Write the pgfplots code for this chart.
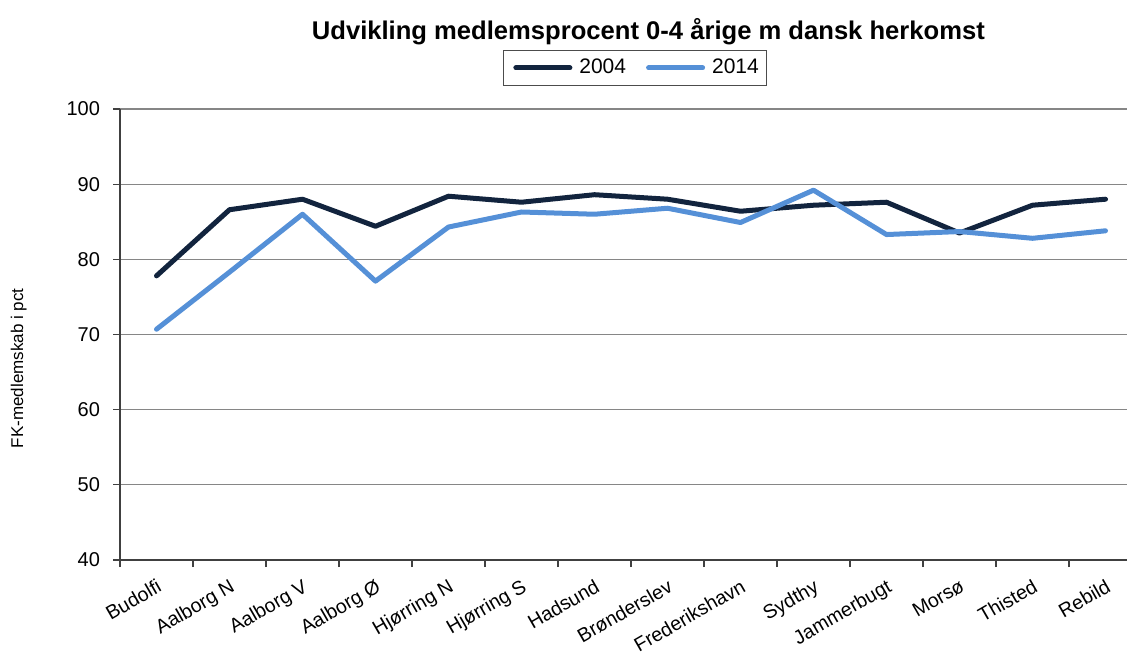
\documentclass[border=0pt]{standalone}
\usepackage{fontspec}
\setmainfont{Liberation Sans}
\usepackage{pgfplots}
\pgfplotsset{compat=1.18}
\definecolor{darkline}{HTML}{12243E}
\definecolor{lightline}{HTML}{5590D7}
\definecolor{gridgray}{HTML}{868686}
\begin{document}
\begin{tikzpicture}
\useasboundingbox (0pt,0pt) rectangle (563.5pt,327.5pt);
\begin{axis}[
  at={(60pt,47.5pt)}, anchor=south west,
  width=511pt, height=225.5pt, scale only axis,
  xmin=-0.5, xmax=13.5, ymin=40, ymax=100,
  ytick={40,50,...,100},
  xtick={0,...,13},
  xticklabels={Budolfi,Aalborg N,Aalborg V,Aalborg Ø,Hjørring N,Hjørring S,Hadsund,Brønderslev,Frederikshavn,Sydthy,Jammerbugt,Morsø,Thisted,Rebild},
  minor xtick={-0.5,0.5,...,13.5},
  x tick label style={rotate=30, anchor=north east, font=\fontsize{9.8}{12}\selectfont, inner sep=1pt, yshift=-3.5pt, xshift=-2pt},
  y tick label style={font=\fontsize{10}{12}\selectfont, xshift=-3pt},
  /pgf/number format/assume math mode=true,
  axis x line*=bottom, axis y line*=left,
  axis line style={draw=black!75, line width=0.6pt, -},
  tick align=outside,
  major x tick style={draw=none},
  minor x tick style={draw=black!75, line width=0.6pt},
  major y tick style={draw=black!75, line width=0.6pt},
  major tick length=3.5pt, minor tick length=3.5pt,
  ymajorgrids,
  major grid style={draw=gridgray, line width=0.6pt},
  ylabel={FK-medlemskab i pct},
  ylabel style={font=\fontsize{8.5}{10}\selectfont, at={(axis description cs:-0.099,0.425)}, anchor=center},
  every axis title shift=0pt,
  title={\textbf{Udvikling medlemsprocent 0-4 årige m dansk herkomst}},
  title style={font=\fontsize{12.8}{14}\selectfont, at={(axis description cs:0.517,1.172)}, anchor=center},
  legend columns=2,
  legend style={at={(axis description cs:0.504,1.091)}, anchor=center, draw=black!70, line width=0.5pt, font=\fontsize{10.5}{12}\selectfont, inner xsep=3pt, inner ysep=2.5pt,
    nodes={inner xsep=1pt},
    /tikz/every even column/.append style={column sep=7pt}},
  legend image code/.code={\draw[#1, line cap=round] (0pt,0pt) -- (27pt,0pt); \path (-2pt,0pt) (29.5pt,0pt);},
  clip=false,
]
\addplot[color=darkline, line width=2.5pt, line join=round, line cap=round] coordinates {
(0,77.8) (1,86.6) (2,88.0) (3,84.4) (4,88.4) (5,87.6) (6,88.6) (7,88.0) (8,86.4) (9,87.2) (10,87.6) (11,83.5) (12,87.2) (13,88.0)};
\addlegendentry{2004}
\addplot[color=lightline, line width=2.5pt, line join=round, line cap=round] coordinates {
(0,70.7) (1,78.3) (2,86.0) (3,77.1) (4,84.3) (5,86.3) (6,86.0) (7,86.8) (8,84.9) (9,89.2) (10,83.3) (11,83.7) (12,82.8) (13,83.8)};
\addlegendentry{2014}
\end{axis}
\end{tikzpicture}
\end{document}
